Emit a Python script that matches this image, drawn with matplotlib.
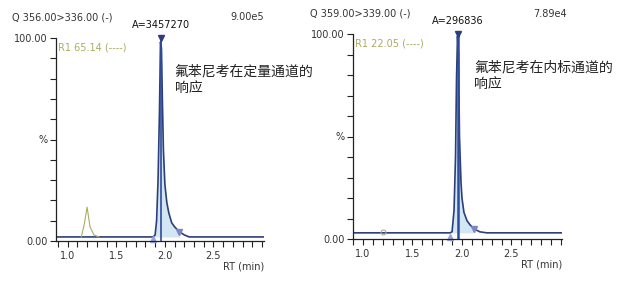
import numpy as np
import matplotlib.pyplot as plt

plt.rcParams['font.family'] = ['DejaVu Sans', 'Noto Sans CJK SC']

# left: quantifier channel
t_quant = [0.88, 1.88, 1.90, 1.915, 1.93, 1.945, 1.955, 1.965, 1.975, 1.985, 2.00,
           2.02, 2.04, 2.07, 2.10, 2.15, 2.20, 2.25, 3.02]
y_quant = [2, 2, 3, 10, 30, 65, 98, 95, 68, 45, 28, 19, 14, 9, 7, 4.5, 3, 2, 2]
t_small = [1.14, 1.17, 1.20, 1.23, 1.27, 1.32]
y_small = [2, 8, 16.7, 7, 3, 2]

# right: internal standard channel
t_is = [0.91, 1.88, 1.90, 1.92, 1.935, 1.945, 1.955, 1.965, 1.975, 1.99, 2.00,
        2.02, 2.05, 2.08, 2.12, 2.18, 2.25, 3.01]
y_is = [3, 3, 3.5, 14, 40, 78, 99, 90, 50, 28, 20, 13, 9, 7, 5, 3.5, 3, 3]

rt = 1.96
peak_start = 1.88
peak_end = [2.15, 2.12]
end_level = [4.5, 5]
areas = ["A=3457270", "A=296836"]
channels = ["Q 356.00>336.00 (-)", "Q 359.00>339.00 (-)"]
scales = ["9.00e5", "7.89e4"]
r1 = ["R1 65.14 (----)", "R1 22.05 (----)"]
notes = ["氟苯尼考在定量通道的\n响应", "氟苯尼考在内标通道的\n响应"]
note_x = [2.10, 2.12]
xlims = [(0.88, 3.02), (0.91, 3.01)]

navy = "#2b3f7a"
fill_c = "#d3e6f4"
olive = "#a9ad62"
mark_c = "#7b86c2"
txt_c = "#333333"

fig = plt.figure(figsize=(6.18, 2.81), dpi=100)
ax1 = fig.add_axes([56/618, 40/281, 208/618, 203/281])
ax2 = fig.add_axes([353/618, 42/281, 209/618, 205/281])

traces = [(t_quant, y_quant), (t_is, y_is)]
for i, ax in enumerate([ax1, ax2]):
    t, y = np.array(traces[i][0]), np.array(traces[i][1])
    base = y[0]
    m = (t >= peak_start) & (t <= peak_end[i])
    ax.fill_between(t[m], y[m], base, color=fill_c, lw=0)
    ax.plot(t, y, color=navy, lw=1.2)
    ax.plot([rt, rt], [0, 100], color="#2f4c9c", lw=1.2 if i == 0 else 1.8)
    ax.plot([rt], [100], marker="v", color=navy, ms=4, clip_on=False)
    ax.plot([peak_start], [1.2], marker="^", color="#9aa4d6", ms=5, clip_on=False)
    ax.plot([peak_end[i]], [end_level[i]], marker="v", color=mark_c, ms=5)

    ax.set_xlim(*xlims[i])
    ax.set_ylim(0, 100)
    ax.spines['top'].set_visible(False)
    ax.spines['right'].set_visible(False)
    for s in ['left', 'bottom']:
        ax.spines[s].set_color("#222222")
        ax.spines[s].set_linewidth(0.9)
    ax.set_xticks([1.0, 1.5, 2.0, 2.5])
    ax.set_xticks(np.arange(0.9, 3.01, 0.1), minor=True)
    ax.set_yticks(np.arange(0, 101, 10))
    ax.set_yticklabels(["0.00", "", "", "", "", "%", "", "", "", "", "100.00"])
    ax.tick_params(axis='both', which='both', direction='out', length=4,
                   width=0.8, color="#222222", labelsize=7, labelcolor=txt_c, pad=2)
    ax.tick_params(axis='x', which='major', pad=3)

    ax.text(1.0, -0.125, "RT (min)", transform=ax.transAxes, ha='right',
            va='center', fontsize=7, color=txt_c)
    ax.text(rt, 104, areas[i], ha='center', va='bottom', fontsize=7,
            color="#111111", clip_on=False)
    ax.text(0.01, 98, r1[i], transform=ax.get_yaxis_transform(), ha='left',
            va='top', fontsize=7, color=olive)
    ax.text(note_x[i], 87, notes[i], ha='left', va='top', fontsize=10,
            color="#222222", linespacing=1.25,
            family=['Noto Sans CJK SC', 'DejaVu Sans'])

ax1.plot(t_small, y_small, color=olive, lw=0.8)
ax2.plot([1.2], [3.5], marker="o", mfc="none", mec="#b0a890", ms=3.5, mew=0.8)

fig.text(12/618, 1 - 17/281, channels[0], ha='left', va='center', fontsize=7, color=txt_c)
fig.text(230/618, 1 - 17/281, scales[0], ha='left', va='center', fontsize=7, color=txt_c)
fig.text(310/618, 1 - 14/281, channels[1], ha='left', va='center', fontsize=7, color=txt_c)
fig.text(533/618, 1 - 14/281, scales[1], ha='left', va='center', fontsize=7, color=txt_c)

fig.savefig("out.png", dpi=100)
